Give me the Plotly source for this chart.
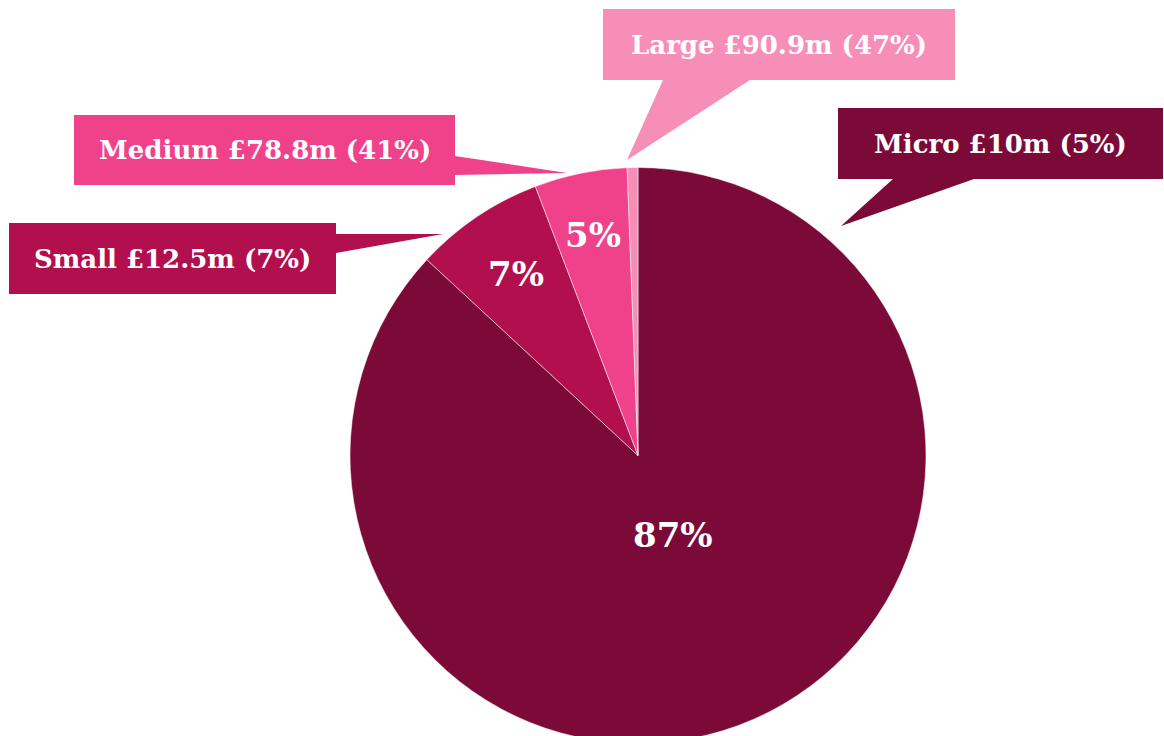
import math
import plotly.graph_objects as go

# Data
categories = ["Micro", "Small", "Medium", "Large"]
share_of_count = [86.9, 7.3, 5.2, 0.6]          # pie slice shares (%)
funding_labels = ["Micro £10m (5%)", "Small £12.5m (7%)",
                  "Medium £78.8m (41%)", "Large £90.9m (47%)"]
slice_text = ["87%", "7%", "5%", ""]
slice_text_radius = [0.30, 0.76, 0.78, 0.0]      # fraction of pie radius
colors = ["#7b0a38", "#b20f4f", "#f0428a", "#f78eb8"]

W, H = 1164, 744          # page is clipped at 736; pie runs off the bottom
FONT = "DejaVu Serif"

def px(x):
    return x / W

def py(y):
    return 1 - y / H

# Pie geometry (paper domain)
dom_x = [350 / W, 926 / W]
dom_y = [0, 1 - 167 / H]
radius_px = min((dom_x[1] - dom_x[0]) * W, (dom_y[1] - dom_y[0]) * H) / 2
cx_px = (dom_x[0] + dom_x[1]) / 2 * W
cy_px = H - (dom_y[0] + dom_y[1]) / 2 * H   # from top

fig = go.Figure()
fig.add_trace(go.Pie(
    labels=categories,
    values=share_of_count,
    textinfo="none",
    hoverinfo="none",
    marker=dict(colors=colors, line=dict(color="white", width=0.5)),
    sort=False,
    direction="clockwise",
    rotation=0,
    hole=0,
    showlegend=False,
    domain=dict(x=dom_x, y=dom_y),
))

# Percentage labels placed along each slice's mid-angle
total = sum(share_of_count)
annotations = []
cum = 0.0
for v, t, rf in zip(share_of_count, slice_text, slice_text_radius):
    mid = (cum + v / 2) / total * 2 * math.pi
    cum += v
    if not t:
        continue
    x = cx_px + math.sin(mid) * rf * radius_px
    y = cy_px - math.cos(mid) * rf * radius_px
    annotations.append(dict(xref="paper", yref="paper", x=px(x), y=py(y),
                            text=t, showarrow=False,
                            xanchor="center", yanchor="middle",
                            font=dict(family=FONT, size=34, color="white",
                                      weight="bold")))

# Callout boxes (x0, y0, x1, y1) and tails (base a, base b, tip) in pixel space
boxes = {
    "Large": ((603, 9, 955, 80), [(663, 80), (750, 80), (627, 160)]),
    "Medium": ((74, 115, 455, 185), [(455, 156), (455, 175), (567, 173)]),
    "Small": ((9, 223, 336, 294), [(336, 234), (336, 253), (443, 234)]),
    "Micro": ((838, 108, 1163, 179), [(893, 179), (974, 179), (841, 226)]),
}

shapes = []
for cat, lab, col in zip(categories, funding_labels, colors):
    (x0, y0, x1, y1), tail = boxes[cat]
    shapes.append(dict(type="rect", xref="paper", yref="paper",
                       x0=px(x0), x1=px(x1), y0=py(y1), y1=py(y0),
                       fillcolor=col, line=dict(width=0), layer="above"))
    path = "M {} {} L {} {} L {} {} Z".format(
        px(tail[0][0]), py(tail[0][1]), px(tail[1][0]), py(tail[1][1]),
        px(tail[2][0]), py(tail[2][1]))
    shapes.append(dict(type="path", xref="paper", yref="paper", path=path,
                       fillcolor=col, line=dict(width=0), layer="above"))
    annotations.append(dict(xref="paper", yref="paper",
                            x=px((x0 + x1) / 2), y=py((y0 + y1) / 2),
                            text=lab, showarrow=False,
                            xanchor="center", yanchor="middle",
                            font=dict(family=FONT, size=26, color="white",
                                      weight="bold")))

fig.update_layout(
    width=W, height=H,
    margin=dict(l=0, r=0, t=0, b=0),
    paper_bgcolor="white",
    plot_bgcolor="white",
    shapes=shapes,
    annotations=annotations,
)

fig.write_html("out.html",
               config={"displayModeBar": False},
               post_script="document.body.style.margin='0';"
                           "document.body.style.overflow='hidden';")
